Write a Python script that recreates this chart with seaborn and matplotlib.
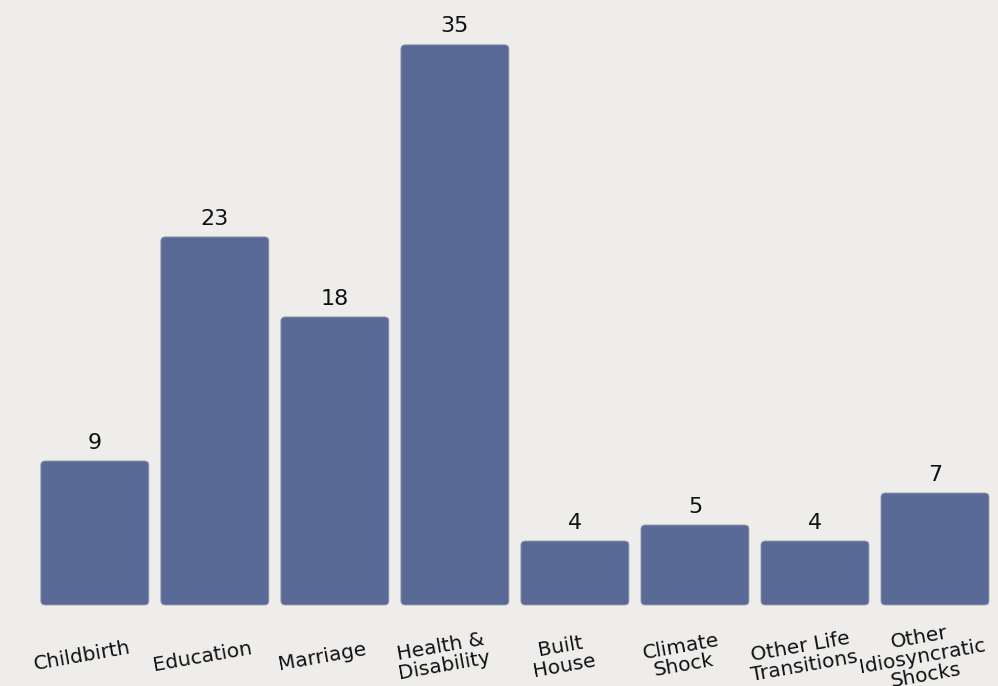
import matplotlib
matplotlib.use("Agg")
import matplotlib.pyplot as plt
from matplotlib.patches import FancyBboxPatch
import seaborn as sns
import pandas as pd

# data
categories = ["Childbirth", "Education", "Marriage", "Health &\nDisability",
              "Built\nHouse", "Climate\nShock", "Other Life\nTransitions",
              "Other\nIdiosyncratic\nShocks"]
counts = [9, 23, 18, 35, 4, 5, 4, 7]

bar_color = "#5a6a96"
bg_color = "#eeedeb"

sns.set_theme(style="white")
plt.rcParams["font.family"] = ["DejaVu Sans"]

df = pd.DataFrame({"category": categories, "count": counts})

fig = plt.figure(figsize=(9.98, 6.86), dpi=100)
fig.patch.set_facecolor(bg_color)
ax = fig.add_axes([0, 0, 1, 1])
ax.set_facecolor(bg_color)

sns.barplot(data=df, x="category", y="count", color=bar_color,
            saturation=1, width=0.9, ax=ax)

ax.set_xlim(-0.79, 7.525)
ax.set_ylim(-5.06, 37.8)

# swap plain rectangles for rounded ones
aspect = (998 / (7.525 + 0.79)) / (686 / (37.8 + 5.06))
for p in list(ax.patches):
    x, y = p.get_x(), p.get_y()
    w, h = p.get_width(), p.get_height()
    rb = FancyBboxPatch((x, y), w, h,
                        boxstyle="round,pad=0,rounding_size=0.035",
                        mutation_aspect=aspect,
                        facecolor=bar_color, edgecolor="#9aa0ad",
                        linewidth=0.6)
    ax.add_patch(rb)
    p.remove()

# value labels
for i, v in enumerate(counts):
    ax.annotate(str(v), (i, v), xytext=(0, 6), textcoords="offset points",
                ha="center", va="bottom", fontsize=16, color="#111111")

# category labels below the bars, slightly tilted
for i, lab in enumerate(categories):
    ax.annotate(lab, (i, 0), xytext=(-9, -37), textcoords="offset points",
                ha="center", va="center", fontsize=14.5, rotation=10,
                linespacing=1.0, color="#111111")

ax.set_xlabel("")
ax.set_ylabel("")
ax.set_xticks([])
ax.set_yticks([])
sns.despine(ax=ax, left=True, bottom=True)

fig.savefig("out.png", dpi=100, facecolor=bg_color)
